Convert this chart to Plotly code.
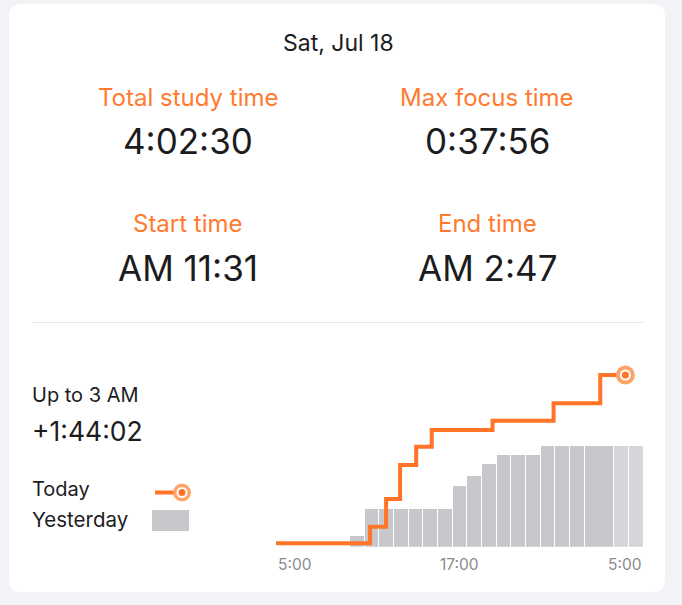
import plotly.graph_objects as go

W, H = 682, 605

# ---- data ----
hours = list(range(25))  # bar index: hour 5:00 + i
yesterday_minutes = [0, 0, 0, 0, 0, 15.4, 54.7, 54.7, 54.7, 54.7, 54.7, 54.7,
                     87.4, 101.3, 119.1, 132.1, 132.1, 132.1,
                     145.5, 145.5, 145.5, 145.5, 145.5, 145.5, 145.5]
future_from = 23  # bars from this index drawn lighter
today_x = [-0.5, 5.91, 7.0, 7.95, 9.05, 10.11, 14.25, 18.41, 21.59, 23.3]
today_minutes = [0, 24.0, 63.9, 112.8, 139.3, 163.3, 176.7, 201.7, 242.5, 242.5]
tick_pos = [-0.5, 12, 24.5]
tick_text = ["5:00", "17:00", "5:00"]
tick_anchor = ["left", "center", "right"]

date_label = "Sat, Jul 18"
stat_labels = ["Total study time", "Max focus time", "Start time", "End time"]
stat_values = ["4:02:30", "0:37:56", "AM 11:31", "AM 2:47"]
compare_label = "Up to 3 AM"
compare_value = "+1:44:02"
legend_labels = ["Today", "Yesterday"]

ORANGE = "#ff7426"
ORANGE_TXT = "#ff7a2f"
ORANGE_LIGHT = "#ffa468"
DARK = "#1c1c1e"
GRAY = "#c7c7cc"
GRAY_LIGHT = "#d6d6da"
FONT = "Inter"


def px(x):
    return x / W


def py(y):
    return 1 - y / H


fig = go.Figure()

# bars (yesterday)
fig.add_trace(go.Bar(
    x=hours, y=yesterday_minutes,
    marker=dict(color=[GRAY if i < future_from else GRAY_LIGHT for i in hours], line=dict(width=0)),
    width=0.94, hoverinfo="skip", showlegend=False, xaxis="x", yaxis="y"))

# today line
fig.add_trace(go.Scatter(
    x=today_x, y=today_minutes, mode="lines", line=dict(color=ORANGE, width=4, shape="hv"),
    hoverinfo="skip", showlegend=False, xaxis="x", yaxis="y2"))
for size, col in [(19, ORANGE_LIGHT), (11, "white"), (7, ORANGE)]:
    fig.add_trace(go.Scatter(
        x=[today_x[-1]], y=[today_minutes[-1]], mode="markers",
        marker=dict(size=size, color=col, line=dict(width=0)),
        hoverinfo="skip", showlegend=False, xaxis="x", yaxis="y2", cliponaxis=False))

# axes geometry
x_left, x_right = 276, 643
y_base_bar, y_top = 546.7, 365
scale = 0.694  # px per minute
ymax = (y_base_bar - y_top) / scale
off = 3.4 / scale

fig.update_layout(
    width=W, height=H,
    margin=dict(l=0, r=0, t=0, b=0),
    paper_bgcolor="#f2f2f7", plot_bgcolor="rgba(0,0,0,0)",
    bargap=0,
    xaxis=dict(domain=[px(x_left), px(x_right)], range=[-0.5, 24.5], visible=False, fixedrange=True),
    yaxis=dict(domain=[py(y_base_bar), py(y_top)], range=[0, ymax], visible=False, fixedrange=True),
    yaxis2=dict(domain=[py(y_base_bar), py(y_top)], range=[-off, ymax - off], visible=False,
                overlaying="y", fixedrange=True),
    font=dict(family=FONT, color=DARK),
)

shapes = []
# card with rounded corners
cx0, cy0, cx1, cy1, r = 9, 4, 665, 592, 12
path = (f"M {px(cx0 + r)} {py(cy0)} L {px(cx1 - r)} {py(cy0)} Q {px(cx1)} {py(cy0)} {px(cx1)} {py(cy0 + r)} "
        f"L {px(cx1)} {py(cy1 - r)} Q {px(cx1)} {py(cy1)} {px(cx1 - r)} {py(cy1)} "
        f"L {px(cx0 + r)} {py(cy1)} Q {px(cx0)} {py(cy1)} {px(cx0)} {py(cy1 - r)} "
        f"L {px(cx0)} {py(cy0 + r)} Q {px(cx0)} {py(cy0)} {px(cx0 + r)} {py(cy0)} Z")
shapes.append(dict(type="path", xref="paper", yref="paper", path=path,
                   fillcolor="white", line=dict(width=0), layer="below"))
# divider
shapes.append(dict(type="line", xref="paper", yref="paper", x0=px(32), x1=px(643), y0=py(322.5), y1=py(322.5),
                   line=dict(color="#e5e5ea", width=1)))
# legend: today icon
shapes.append(dict(type="line", xref="paper", yref="paper", x0=px(155), x1=px(178), y0=py(492.5), y1=py(492.5),
                   line=dict(color=ORANGE, width=4)))
for rad, col in [(9, ORANGE_LIGHT), (5.5, "white"), (3.5, ORANGE)]:
    shapes.append(dict(type="circle", xref="paper", yref="paper",
                       x0=px(182 - rad), x1=px(182 + rad), y0=py(492.5 + rad), y1=py(492.5 - rad),
                       fillcolor=col, line=dict(width=0)))
# legend: yesterday swatch
shapes.append(dict(type="rect", xref="paper", yref="paper", x0=px(152), x1=px(189), y0=py(531), y1=py(510),
                   fillcolor=GRAY, line=dict(width=0)))
fig.update_layout(shapes=shapes)

ann = []


def text(x, y, s, size, color=DARK, anchor="center"):
    ann.append(dict(x=px(x), y=py(y), xref="paper", yref="paper", text=s, showarrow=False,
                    xanchor=anchor, yanchor="middle", font=dict(size=size, color=color, family=FONT)))


text(338, 43, date_label, 23)
cols = [188, 487, 188, 487]
rows_l = [97, 97, 224, 224]
rows_v = [141, 141, 268, 268]
for i in range(4):
    text(cols[i], rows_l[i], stat_labels[i], 24, ORANGE_TXT)
    text(cols[i], rows_v[i], stat_values[i], 35)
text(30, 395, compare_label, 20, anchor="left")
text(30, 431, compare_value, 26.5, anchor="left")
text(30, 489, legend_labels[0], 20, anchor="left")
text(30, 519, legend_labels[1], 20.5, anchor="left")

for p, t, a in zip(tick_pos, tick_text, tick_anchor):
    ann.append(dict(x=p, y=py(564), xref="x", yref="paper", text=t, showarrow=False,
                    xanchor=a, yanchor="middle", font=dict(size=15.5, color="#8a8a8e", family=FONT)))

fig.update_layout(annotations=ann)

fig.write_html("out.html", config={"displayModeBar": False})
